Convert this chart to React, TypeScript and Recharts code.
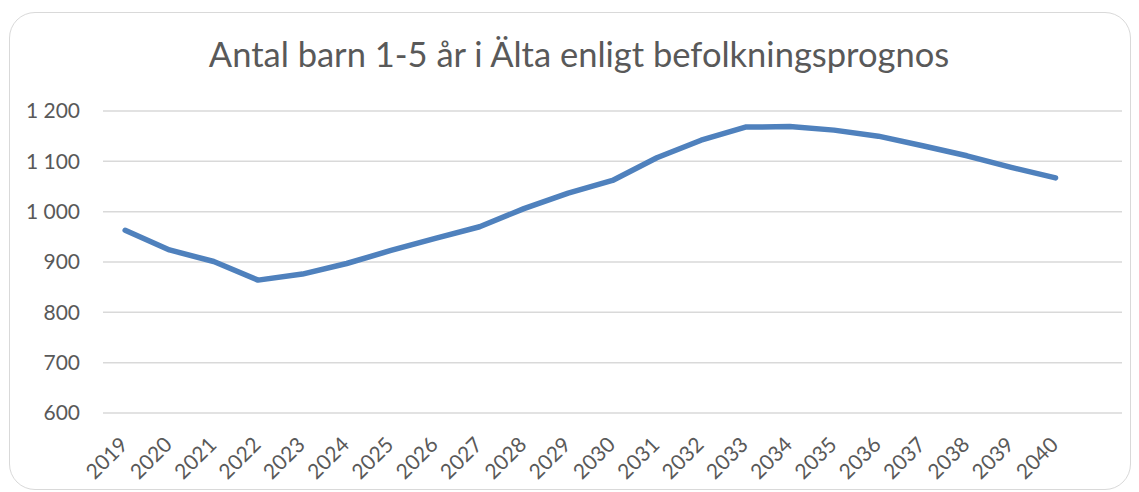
import React from "react";
import { LineChart, Line, XAxis, YAxis, CartesianGrid } from "recharts";

const years = [
  "2019", "2020", "2021", "2022", "2023", "2024", "2025", "2026", "2027", "2028", "2029",
  "2030", "2031", "2032", "2033", "2034", "2035", "2036", "2037", "2038", "2039", "2040",
];
const children = [
  963, 924, 901, 864, 876, 897, 923, 947, 970, 1006, 1037,
  1062, 1107, 1142, 1168, 1169, 1162, 1150, 1131, 1111, 1088, 1067,
];
const yTicks = [600, 700, 800, 900, 1000, 1100, 1200];

const data = years.map((year, i) => ({ year, value: children[i] }));

const TEXT = "#595959";
const FONT = "Lato, 'Open Sans', sans-serif";

// thousands separated with a space, swedish style
const fmt = (n: number) =>
  n >= 1000 ? `${Math.floor(n / 1000)} ${String(n % 1000).padStart(3, "0")}` : String(n);

const YearTick = (props: any) => {
  const { x, payload } = props;
  const tx = x + 4;
  const ty = 446;
  return (
    <text
      x={tx}
      y={ty}
      transform={`rotate(-45, ${tx}, ${ty})`}
      textAnchor="end"
      fill={TEXT}
      fontSize={21}
      fontFamily={FONT}
    >
      {payload.value}
    </text>
  );
};

export default function App() {
  return (
    <div style={{ position: "fixed", left: 0, top: 0, width: 1139, height: 492, background: "#fff", overflow: "hidden" }}>
      <div
        style={{
          position: "absolute",
          left: 9,
          top: 12,
          width: 1122,
          height: 478,
          border: "1.5px solid #d9d9d9",
          borderRadius: 26,
          boxSizing: "border-box",
        }}
      />
      <div
        style={{
          position: "absolute",
          left: 0,
          top: 33,
          width: 1158,
          textAlign: "center",
          fontFamily: FONT,
          fontSize: 34.5,
          lineHeight: "42px",
          color: TEXT,
        }}
      >
        Antal barn 1-5 år i Älta enligt befolkningsprognos
      </div>
      <div style={{ position: "absolute", left: 0, top: 0 }}>
        <LineChart width={1139} height={492} data={data} margin={{ top: 111, right: 17, bottom: 0, left: 0 }}>
          <CartesianGrid vertical={false} stroke="#d9d9d9" strokeWidth={1.5} />
          <XAxis
            dataKey="year"
            axisLine={false}
            tickLine={false}
            height={79}
            interval={0}
            padding={{ left: 22.15, right: 66.45 }}
            tick={<YearTick />}
          />
          <YAxis
            domain={[600, 1200]}
            ticks={yTicks}
            width={103}
            axisLine={false}
            tickLine={false}
            tickSize={0}
            tickMargin={23}
            tickFormatter={fmt}
            tick={{ fill: TEXT, fontSize: 21, fontFamily: FONT }}
          />
          <Line
            type="linear"
            dataKey="value"
            stroke="#4F81BD"
            strokeWidth={5.5}
            strokeLinecap="round"
            strokeLinejoin="round"
            dot={false}
            activeDot={false}
            isAnimationActive={false}
          />
        </LineChart>
      </div>
    </div>
  );
}
